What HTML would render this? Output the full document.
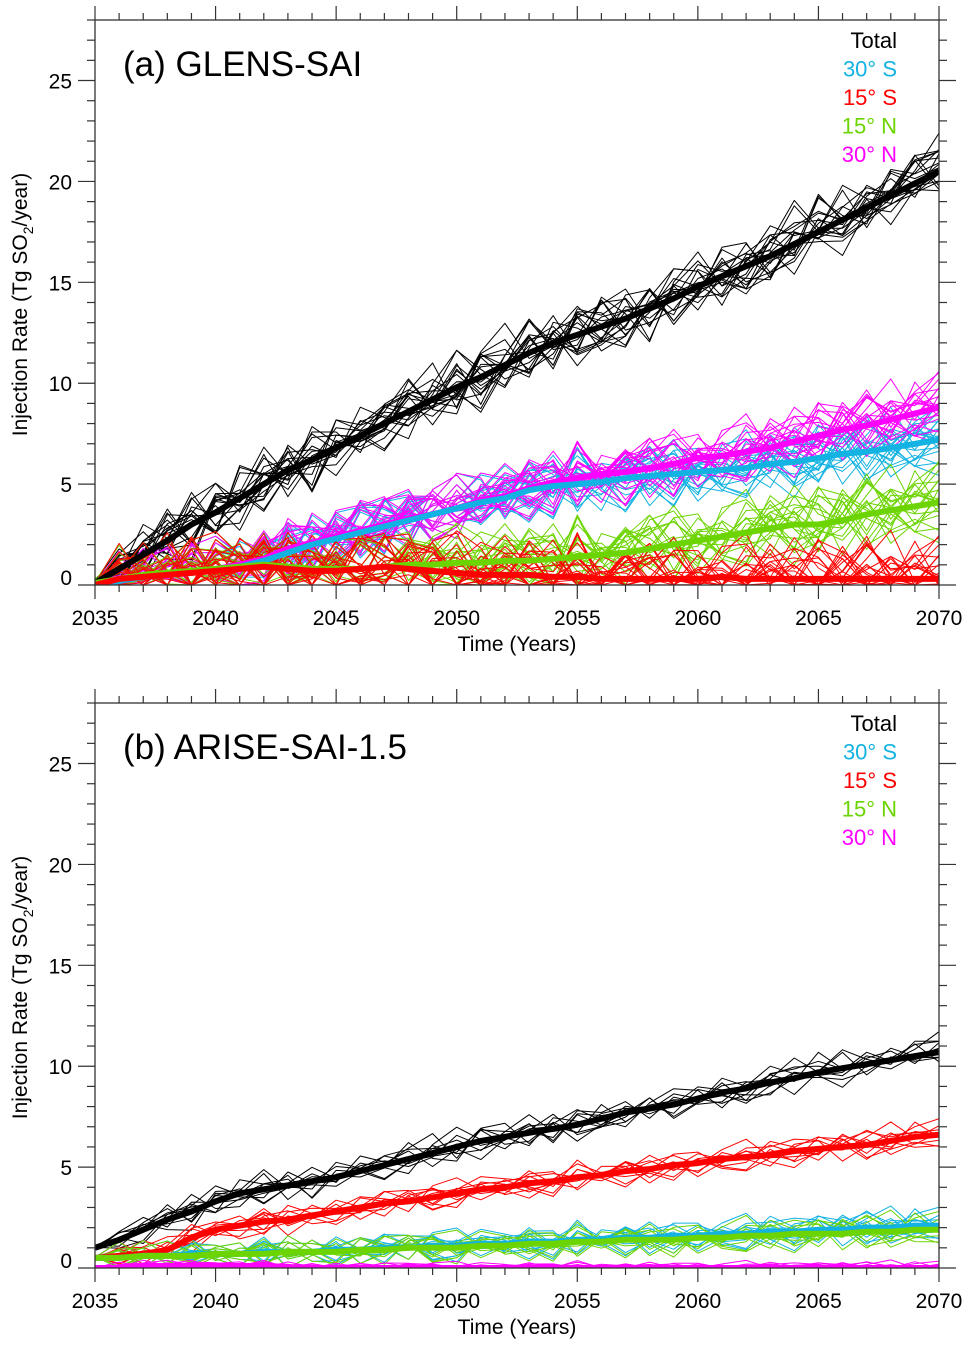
<!DOCTYPE html>
<html><head><meta charset="utf-8">
<style>
html,body{margin:0;padding:0;background:#fff;}
svg{display:block;font-family:"Liberation Sans",Arial,sans-serif;}
</style></head>
<body>
<svg id="chart" width="973" height="1349" viewBox="0 0 973 1349" xmlns="http://www.w3.org/2000/svg"></svg>
<script>
// ---- data ----
const years = [];
for (let y = 2035; y <= 2070; y++) years.push(y);
const xTickLabels = ["2035","2040","2045","2050","2055","2060","2065","2070"];
const yTickLabels = ["0","5","10","15","20","25"];
const legendLabels = ["Total","30\u00b0 S","15\u00b0 S","15\u00b0 N","30\u00b0 N"];

// Panel (a) GLENS-SAI ensemble means
const glensTotal = [0.1,0.8,1.5,2.2,3.0,3.6,4.3,5.0,5.7,6.2,6.8,7.4,8.0,8.6,9.2,9.8,10.3,10.9,11.5,12.0,12.4,12.8,13.2,13.7,14.2,14.8,15.3,15.8,16.3,16.9,17.5,18.1,18.7,19.3,19.9,20.5];
const glens30S = [0,0.2,0.4,0.5,0.6,0.8,0.9,1.2,1.6,2.0,2.3,2.6,2.9,3.2,3.5,3.8,4.1,4.3,4.7,4.9,5.0,5.1,5.3,5.4,5.5,5.6,5.7,5.8,6.0,6.1,6.3,6.5,6.6,6.8,7.0,7.2];
const glens15S = [0,0.3,0.4,0.5,0.6,0.7,0.8,0.9,0.8,0.7,0.7,0.8,0.9,0.8,0.7,0.6,0.5,0.5,0.5,0.4,0.4,0.3,0.3,0.3,0.3,0.3,0.4,0.3,0.3,0.3,0.3,0.3,0.3,0.3,0.3,0.3];
const glens15N = [0.1,0.3,0.5,0.6,0.7,0.8,0.9,1.0,0.9,0.8,0.8,0.8,0.9,1.0,1.0,1.1,1.1,1.2,1.2,1.3,1.4,1.5,1.6,1.8,2.0,2.2,2.4,2.6,2.8,3.0,3.0,3.2,3.5,3.7,3.9,4.1];
const glens30N = [0,0.2,0.4,0.5,0.6,0.8,1.0,1.3,1.8,2.1,2.4,2.7,3.0,3.3,3.5,3.8,4.2,4.4,4.8,5.1,5.3,5.5,5.6,5.8,6.0,6.3,6.4,6.6,6.8,7.1,7.4,7.7,7.9,8.2,8.5,8.8];

// Panel (b) ARISE-SAI-1.5 ensemble means
const ariseTotal = [1.0,1.4,1.9,2.4,2.8,3.3,3.7,3.9,4.1,4.3,4.5,4.8,5.1,5.4,5.7,6.0,6.3,6.5,6.7,6.9,7.1,7.4,7.7,7.9,8.1,8.4,8.7,8.9,9.2,9.4,9.7,9.9,10.1,10.3,10.5,10.7];
const arise30S = [0.5,0.5,0.6,0.6,0.7,0.7,0.7,0.8,0.8,0.8,0.9,0.9,1.0,1.0,1.1,1.1,1.2,1.2,1.3,1.3,1.4,1.4,1.5,1.5,1.6,1.6,1.7,1.7,1.8,1.8,1.9,1.9,2.0,2.0,2.1,2.1];
const arise15S = [0.5,0.6,0.7,0.9,1.5,1.9,2.1,2.3,2.4,2.6,2.8,3.0,3.2,3.3,3.5,3.7,3.9,4.0,4.2,4.3,4.5,4.6,4.8,4.9,5.1,5.2,5.4,5.5,5.6,5.8,5.9,6.0,6.1,6.3,6.5,6.6];
const arise15N = [0.5,0.5,0.6,0.6,0.6,0.7,0.7,0.7,0.8,0.8,0.8,0.9,0.9,1.0,1.0,1.0,1.1,1.1,1.2,1.2,1.3,1.3,1.4,1.4,1.4,1.5,1.5,1.6,1.6,1.7,1.7,1.7,1.8,1.8,1.9,1.9];
const arise30N = [0,0,0.1,0.1,0.1,0.1,0.1,0.1,0,0,0,0,0,0,0,0,0,0,0,0,0,0,0,0,0,0,0,0,0,0,0,0,0,0,0,0];

// member deviations read as departures from the mean (units of spread)
const dev0 = [0,.3,-.2,.5,.1,-.4,.6,.2,-.3,.8,.1,-.5,.4,.9,-.2,.3,-.6,.2,.7,-.1,-.4,.5,.1,-.8,.3,.6,-.2,.1,.4,-.5,.7,.2,-.3,.5,.1,.6];
const dev1 = [0,-.2,.4,.1,-.6,.3,.2,-.4,.7,.1,-.3,.5,-.1,-.6,.4,.8,.2,-.5,.1,.6,-.2,-.7,.3,.5,-.1,-.4,.6,.9,-.3,.2,-.5,.1,.7,-.2,.4,-.3];
const dev2 = [0,.5,.1,-.3,.6,.9,-.1,.4,.2,-.6,.5,.3,.8,-.2,-.5,.1,.6,.9,-.3,.2,.7,.1,-.4,.3,.8,.2,-.6,.4,.1,.9,.3,-.4,.2,.8,-.1,.4];
const dev3 = [0,-.4,-.1,.3,-.2,.1,-.7,-.3,.2,-.4,-.8,.1,-.3,.2,-.6,-.2,.3,-.4,-.7,.1,-.2,.4,-.5,-.1,-.6,.2,-.3,-.8,.1,-.4,-.2,.5,-.6,-.1,-.5,-.7];
const dev4 = [0,.2,.7,-.1,.4,-.3,.3,.8,-.5,.2,.6,-.2,.1,.5,.9,-.4,.2,.4,-.2,-.6,.5,.2,.8,-.3,.1,-.5,.4,.2,.7,.1,-.3,.6,.3,-.5,.8,.2];
const dev5 = [0,-.1,-.5,.2,.7,-.2,-.4,.1,.5,-.7,.3,-.1,-.6,.2,.4,-.3,-.8,.1,.3,.5,-.6,-.3,.2,.6,-.5,-.1,.3,-.4,-.6,.3,.1,-.7,-.2,.2,-.4,.1];
const dev6 = [0,.4,.2,.8,-.3,.5,.1,-.6,.3,.4,-.2,.7,.5,-.4,.1,.6,-.1,.3,.5,-.5,.8,-.1,.4,.1,.6,.3,-.2,-.5,.6,.4,.8,-.1,.5,.3,.6,.9];
const dev7 = [0,-.3,.1,-.5,-.8,.2,-.2,.5,-.7,-.1,.4,-.6,-.3,.6,-.4,-.7,.4,-.2,-.5,.2,.1,-.5,-.7,-.2,.3,-.6,-.4,.2,-.3,-.7,-.1,-.4,.1,-.6,-.3,-.5];
const devs = [dev0,dev1,dev2,dev3,dev4,dev5,dev6,dev7];

// ---- rendering ----
const svg = document.getElementById('chart');
const NS = 'http://www.w3.org/2000/svg';
const X0 = 95, X1 = 939, YMAX = 28;
const CYAN = "#12b2e2", RED = "#ff0000", GREEN = "#6cd400", MAG = "#ff00ff";
const panels = [
  {top:20, bottom:585, title:"(a) GLENS-SAI", id:"glens",
   series:[
     {name:"total", color:"#000", mean:glensTotal, spread:1.5, members:20},
     {name:"30s", color:CYAN, mean:glens30S, spread:1.5, members:20},
     {name:"30n", color:MAG, mean:glens30N, spread:1.5, members:20},
     {name:"15n", color:GREEN, mean:glens15N, spread:1.7, members:20},
     {name:"15s", color:RED, mean:glens15S, spread:1.8, members:20}],
   meanOrder:["total","30n","30s","15n","15s"]},
  {top:703, bottom:1268, title:"(b) ARISE-SAI-1.5", id:"arise",
   series:[
     {name:"total", color:"#000", mean:ariseTotal, spread:0.8, members:10},
     {name:"15s", color:RED, mean:arise15S, spread:0.7, members:10},
     {name:"30s", color:CYAN, mean:arise30S, spread:0.8, members:10},
     {name:"15n", color:GREEN, mean:arise15N, spread:0.8, members:10},
     {name:"30n", color:MAG, mean:arise30N, spread:0.3, members:10}],
   meanOrder:["total","15s","30s","15n","30n"]}
];
function mk(tag, attrs, parent){
  const e = document.createElementNS(NS, tag);
  for (const k in attrs) e.setAttribute(k, attrs[k]);
  (parent||svg).appendChild(e);
  return e;
}
const xScale = yr => X0 + (yr - 2035) / 35 * (X1 - X0);

panels.forEach(p => {
  const yScale = v => p.bottom - v / YMAX * (p.bottom - p.top);
  const g = mk('g', {});
  
  
  const clipId = 'clip-' + p.id;
  const cp = mk('clipPath', {id: clipId}, g);
  mk('rect', {x:X0, y:p.top, width:X1-X0, height:p.bottom-p.top}, cp);
  const plot = mk('g', {'clip-path':'url(#'+clipId+')'}, g);

  const path = arr => arr.map((v,i)=>(i?'L':'M')+xScale(years[i]).toFixed(1)+','+yScale(Math.max(0,v)).toFixed(1)).join('');
  p.series.forEach(s => {
    const mg = mk('g', {}, plot);
    
    
    for (let m = 0; m < s.members; m++) {
      const d = devs[(m + s.name.length) % devs.length];
      const d2 = devs[(Math.floor(m/2) + 3) % devs.length];
      const sh = (m * 5 + s.name.length) % 36;
      const vals = s.mean.map((v,i)=> v + s.spread * (d[i] + 0.6*d2[(i+sh)%36]) * (i===0?0.3:1));
      const l = mk('path', {d:path(vals), fill:'none', stroke:s.color, 'stroke-width':1, 'stroke-linejoin':'round'}, mg);
      
      
    }
  });
  p.meanOrder.forEach(n => {
    const s = p.series.find(q=>q.name===n);
    const l = mk('path', {d:path(s.mean), fill:'none', stroke:s.color, 'stroke-width':6, 'stroke-linejoin':'round'}, plot);
    
    
  });

  const fr = mk('rect', {x:X0, y:p.top, width:X1-X0, height:p.bottom-p.top, fill:'none', stroke:'#333', 'stroke-width':1.3}, g);
  
  

  for (let yr = 2035; yr <= 2070; yr++) {
    const x = xScale(yr), major = (yr % 5 === 0);
    const len = major ? 14 : 7;
    mk('line', {x1:x, x2:x, y1:p.bottom, y2:p.bottom+len, stroke:'#333', 'stroke-width':1.2}, g);
    mk('line', {x1:x, x2:x, y1:p.top, y2:p.top-len, stroke:'#333', 'stroke-width':1.2}, g);
  }
  xTickLabels.forEach(lbl => {
    const t = mk('text', {x:xScale(+lbl), y:p.bottom+40, 'font-size':21, 'text-anchor':'middle'}, g);
    t.textContent = lbl;
    
    
  });
  for (let v = 0; v <= YMAX; v++) {
    const y = yScale(v), major = (v % 5 === 0);
    const len = major ? 17 : 8;
    mk('line', {x1:X0, x2:X0-len, y1:y, y2:y, stroke:'#333', 'stroke-width':1.2}, g);
    mk('line', {x1:X1, x2:X1+len, y1:y, y2:y, stroke:'#333', 'stroke-width':1.2}, g);
  }
  yTickLabels.forEach(lbl => {
    const t = mk('text', {x:72, y:yScale(+lbl)+ (lbl==="0"?0:8), 'font-size':21, 'text-anchor':'end'}, g);
    t.textContent = lbl;
    
    
  });
  const xt = mk('text', {x:517, y:p.bottom+66, 'font-size':21, 'text-anchor':'middle'}, g);
  xt.textContent = 'Time (Years)';
  
  
  const cy = (p.top + p.bottom)/2 + 2;
  const yt = mk('text', {x:0, y:0, 'font-size':21, 'text-anchor':'middle', transform:'translate(27,'+cy+') rotate(-90)'}, g);
  yt.innerHTML = 'Injection Rate (Tg SO<tspan font-size="14" dy="6">2</tspan><tspan dy="-6">/year)</tspan>';
  
  
  const tt = mk('text', {x:123, y:p.top+56, 'font-size':35}, g);
  tt.textContent = p.title;
  
  
  const legColors = ["#000",CYAN,RED,GREEN,MAG];
  legendLabels.forEach((lbl,i) => {
    const t = mk('text', {x:897, y:p.top+28+i*28.5, 'font-size':22, 'text-anchor':'end', fill:legColors[i]}, g);
    t.textContent = lbl;
    
    
  });
});
</script>
</body></html>
